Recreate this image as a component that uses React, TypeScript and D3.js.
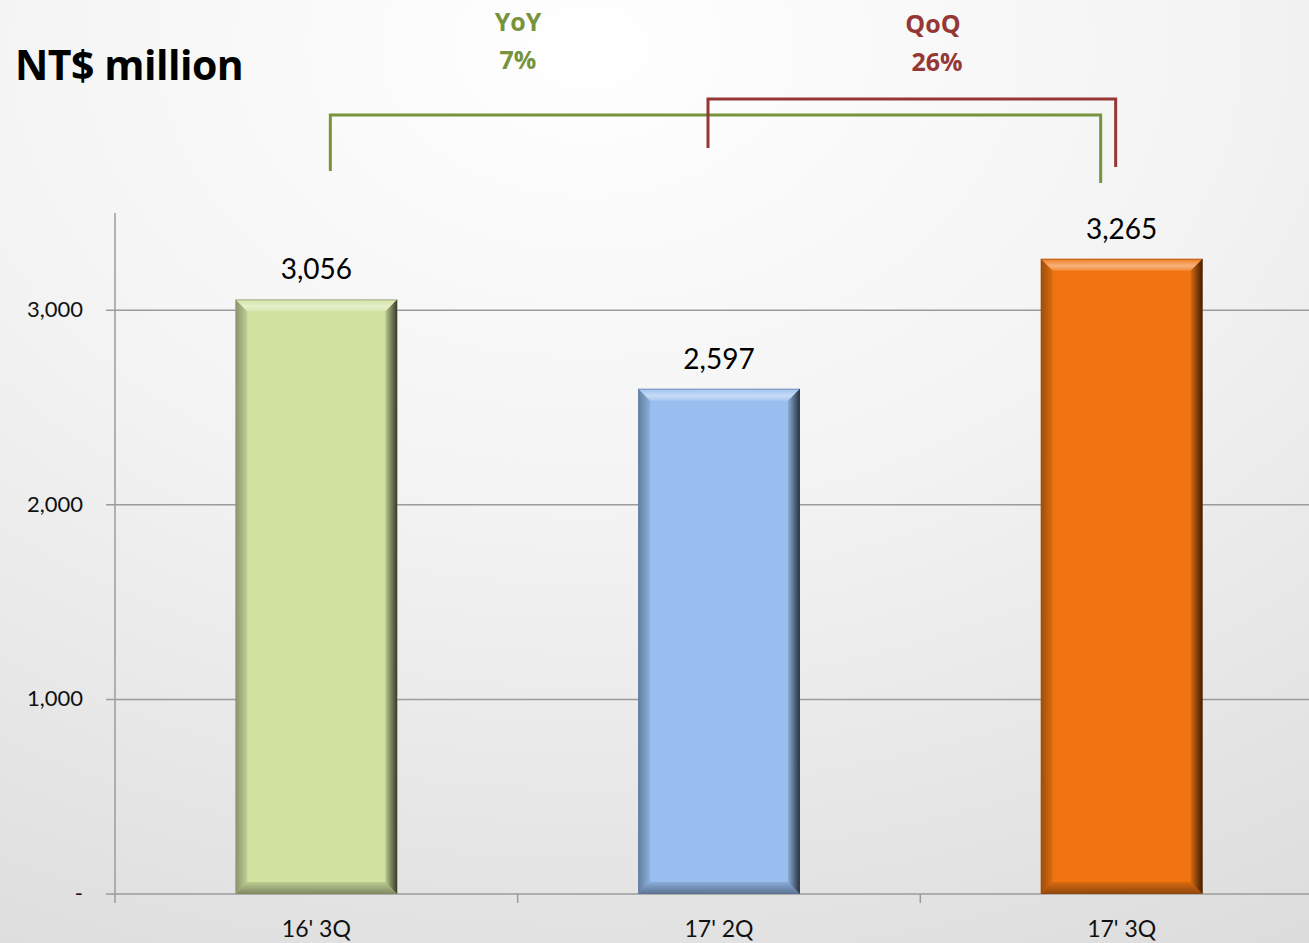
import React, { useEffect } from "react";
import * as d3 from "d3";

const categories = ["16' 3Q", "17' 2Q", "17' 3Q"];
const values = [3056, 2597, 3265];
const barColors = ["#d1e2a1", "#98bff0", "#f07511"];
const yTicks = [0, 1000, 2000, 3000];
const yoyLabel = ["YoY", "7%"];
const qoqLabel = ["QoQ", "26%"];

const W = 1309;
const H = 943;
const FONT = "Lato, 'Open Sans', 'DejaVu Sans', sans-serif";

export default function App() {
  useEffect(() => {
    document.body.style.margin = "0";
  }, []);

  const x = d3.scaleBand<string>().domain(categories).range([115, 1323]).paddingInner(0).paddingOuter(0);
  const y = d3.scaleLinear().domain([0, 3500]).range([894, 213]);
  const barW = x.bandwidth() * 0.402;
  const fmt = d3.format(",");
  const bev = 12;

  const cx = (c: string) => (x(c) as number) + x.bandwidth() / 2;

  // brackets
  const gY = y(3500) - 98; // 115
  const rY = y(3500) - 114; // 99
  const green = { x1: cx(categories[0]) + 14, x2: cx(categories[2]) - 21, y: gY, d1: 56, d2: 68 };
  const red = { x1: cx(categories[1]) - 11, x2: cx(categories[2]) - 6, y: rY, d1: 49, d2: 68 };

  return (
    <svg width={W} height={H} style={{ position: "absolute", left: 0, top: 0, display: "block" }} fontFamily={FONT}>
      <defs>
        <radialGradient id="bg" cx="0.45" cy="0.05" r="1.1">
          <stop offset="0" stopColor="#ffffff" />
          <stop offset="0.45" stopColor="#f3f3f3" />
          <stop offset="1" stopColor="#dcdcdc" />
        </radialGradient>
        <linearGradient id="rightShade" x1="0" x2="1" y1="0" y2="0">
          <stop offset="0" stopColor="#000" stopOpacity="0.1" />
          <stop offset="1" stopColor="#000" stopOpacity="0.75" />
        </linearGradient>
        <linearGradient id="leftShade" x1="0" x2="1" y1="0" y2="0">
          <stop offset="0" stopColor="#000" stopOpacity="0.35" />
          <stop offset="1" stopColor="#000" stopOpacity="0.08" />
        </linearGradient>
        <linearGradient id="topShade" x1="0" x2="0" y1="0" y2="1">
          <stop offset="0" stopColor="#fff" stopOpacity="0.05" />
          <stop offset="0.6" stopColor="#fff" stopOpacity="0.45" />
          <stop offset="1" stopColor="#fff" stopOpacity="0.15" />
        </linearGradient>
        <linearGradient id="bottomShade" x1="0" x2="0" y1="0" y2="1">
          <stop offset="0" stopColor="#000" stopOpacity="0.1" />
          <stop offset="1" stopColor="#000" stopOpacity="0.4" />
        </linearGradient>
      </defs>
      <rect x={0} y={0} width={W} height={H} fill="url(#bg)" />

      <text x={15} y={80} fontSize={41} fontWeight={700} fill="#000" fontFamily="'Open Sans', Lato, sans-serif" letterSpacing={-0.5}>
        NT$ million
      </text>

      {/* gridlines */}
      {yTicks.map((t) => (
        <line key={t} x1={106} x2={W} y1={y(t)} y2={y(t)} stroke="#9b9b9b" strokeWidth={1.5} />
      ))}
      {yTicks.map((t) => (
        <text key={"l" + t} x={83} y={y(t) + 7} textAnchor="end" fontSize={22} fill="#111">
          {t === 0 ? "-" : fmt(t)}
        </text>
      ))}
      {/* y axis */}
      <line x1={115} x2={115} y1={y(3500)} y2={y(0) + 9} stroke="#9b9b9b" strokeWidth={1.5} />
      {categories.slice(1).map((c) => (
        <line key={"t" + c} x1={x(c) as number} x2={x(c) as number} y1={y(0)} y2={y(0) + 9} stroke="#9b9b9b" strokeWidth={1.5} />
      ))}

      {/* bars */}
      {categories.map((c, i) => {
        const x0 = cx(c) - barW / 2;
        const x1 = cx(c) + barW / 2;
        const y0 = y(values[i]);
        const y1 = y(0);
        return (
          <g key={c}>
            <rect x={x0} y={y0} width={barW} height={y1 - y0} fill={barColors[i]} />
            <polygon points={`${x0},${y0} ${x1},${y0} ${x1 - bev},${y0 + bev} ${x0 + bev},${y0 + bev}`} fill="url(#topShade)" />
            <polygon points={`${x0},${y1} ${x1},${y1} ${x1 - bev},${y1 - bev} ${x0 + bev},${y1 - bev}`} fill="url(#bottomShade)" />
            <polygon points={`${x0},${y0} ${x0 + bev},${y0 + bev} ${x0 + bev},${y1 - bev} ${x0},${y1}`} fill="url(#leftShade)" />
            <polygon points={`${x1},${y0} ${x1 - bev},${y0 + bev} ${x1 - bev},${y1 - bev} ${x1},${y1}`} fill="url(#rightShade)" />
            <line x1={x0} x2={x1} y1={y0 + 0.5} y2={y0 + 0.5} stroke="#000" strokeOpacity={0.25} />
            <text x={cx(c)} y={y0 - 20} textAnchor="middle" fontSize={28} fill="#000">
              {fmt(values[i])}
            </text>
            <text x={cx(c)} y={y(0) + 43} textAnchor="middle" fontSize={23} fill="#111">
              {c}
            </text>
          </g>
        );
      })}

      {/* brackets */}
      <path
        d={`M${green.x1},${green.y + green.d1}V${green.y}H${green.x2}V${green.y + green.d2}`}
        fill="none"
        stroke="#77933c"
        strokeWidth={3}
      />
      <path
        d={`M${red.x1},${red.y + red.d1}V${red.y}H${red.x2}V${red.y + red.d2}`}
        fill="none"
        stroke="#953735"
        strokeWidth={3}
      />
      {yoyLabel.map((t, i) => (
        <text key={t} x={518} y={31 + i * 38} textAnchor="middle" fontSize={25} fontWeight={700} fill="#77933c" fontFamily="'Open Sans', Lato, sans-serif">
          {t}
        </text>
      ))}
      {qoqLabel.map((t, i) => (
        <text key={t} x={i === 0 ? 933 : 937} y={33 + i * 38} textAnchor="middle" fontSize={25} fontWeight={700} fill="#953735" fontFamily="'Open Sans', Lato, sans-serif">
          {t}
        </text>
      ))}
    </svg>
  );
}
